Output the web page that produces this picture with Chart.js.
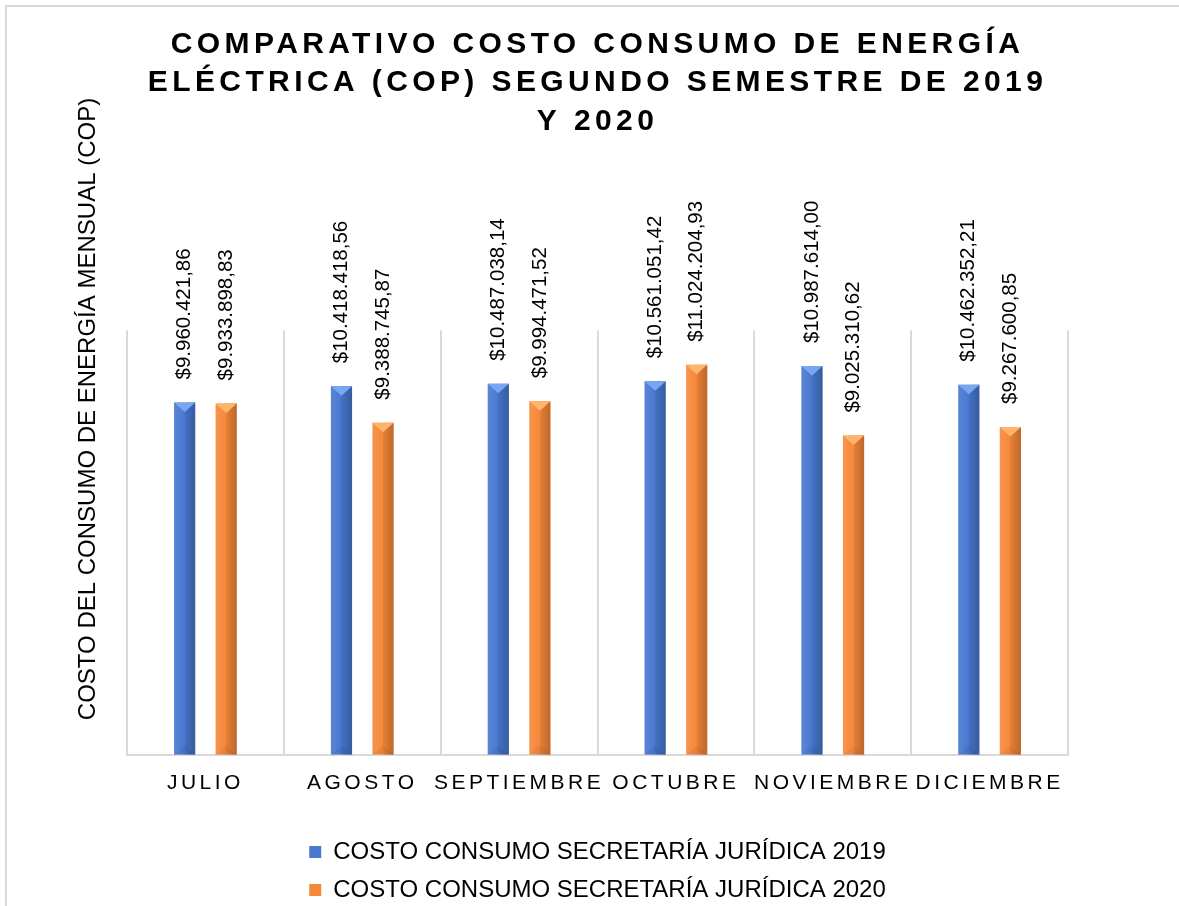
<!DOCTYPE html>
<html><head><meta charset="utf-8">
<script src="https://cdn.jsdelivr.net/npm/chart.js@4/dist/chart.umd.min.js"></script>
<style>
html,body{margin:0;padding:0;background:#fff;overflow:hidden;}
#wrap{position:relative;width:1179px;height:906px;}
#frame{position:absolute;left:5px;top:5px;width:1174px;height:901px;border-left:2px solid #d9d9d9;border-top:2px solid #d9d9d9;box-sizing:border-box;pointer-events:none}
canvas{display:block}
</style></head><body>
<div id="wrap"><canvas id="c" width="1179" height="906"></canvas><div id="frame"></div></div>
<script>
const categories = ['JULIO', 'AGOSTO', 'SEPTIEMBRE', 'OCTUBRE', 'NOVIEMBRE', 'DICIEMBRE'];
const seriesNames = ['COSTO CONSUMO SECRETARÍA JURÍDICA 2019', 'COSTO CONSUMO SECRETARÍA JURÍDICA 2020'];
const values2019 = [9960421.86, 10418418.56, 10487038.14, 10561051.42, 10987614.00, 10462352.21];
const values2020 = [9933898.83, 9388745.87, 9994471.52, 11024204.93, 9025310.62, 9267600.85];
const titleLines = ['COMPARATIVO COSTO CONSUMO DE ENERGÍA', 'ELÉCTRICA (COP) SEGUNDO SEMESTRE DE 2019', 'Y 2020'];
const yAxisTitle = 'COSTO DEL CONSUMO DE ENERGÍA MENSUAL (COP)';

const FONT = "'Liberation Sans', Arial, sans-serif";
const baseColors = ['#4878d0', '#f6883a'];
const lightColors = ['#79a6f2', '#ffb46c'];

function fmt(v) {
  const parts = v.toFixed(2).split('.');
  return '$' + parts[0].replace(/\B(?=(\d{3})+(?!\d))/g, '.') + ',' + parts[1];
}

const spacingPlugin = {
  id: 'spacing',
  beforeDraw(chart) {
    const tb = chart.titleBlock;
    if (tb && !tb._ls) {
      const orig = tb.draw;
      tb.draw = function (a) { const c = chart.ctx; c.save(); c.letterSpacing = '4.4px'; orig.call(this, a); c.restore(); };
      tb._ls = true;
    }
    const xs = chart.scales.x;
    if (xs && !xs._ls) {
      const o = xs.drawLabels;
      xs.drawLabels = function (a) { const c = chart.ctx; c.save(); c.letterSpacing = '3.5px'; o.call(this, a); c.restore(); };
      xs._ls = true;
    }
  },
  afterDraw(chart) {
    const c = chart.ctx;
    c.save();
    c.translate(88, 409);
    c.rotate(-Math.PI / 2);
    c.font = '24px ' + FONT;
    c.fillStyle = '#000';
    c.textAlign = 'center';
    c.textBaseline = 'middle';
    c.fillText(yAxisTitle, 0, 0);
    c.restore();
  }
};

const barDeco = {
  id: 'barDeco',
  afterDatasetsDraw(chart) {
    const c = chart.ctx;
    chart.data.datasets.forEach((ds, di) => {
      const meta = chart.getDatasetMeta(di);
      meta.data.forEach((el, i) => {
        const p = el.getProps(['x', 'y', 'base', 'width'], true);
        const l = p.x - p.width / 2, r = p.x + p.width / 2;
        c.save();
        const g = c.createLinearGradient(l, 0, r, 0);
        g.addColorStop(0, 'rgba(255,255,255,0.10)');
        g.addColorStop(0.5, 'rgba(255,255,255,0)');
        g.addColorStop(0.5, 'rgba(0,0,0,0.06)');
        g.addColorStop(1, 'rgba(0,0,0,0.24)');
        c.fillStyle = g;
        c.fillRect(l, p.y, p.width, p.base - p.y);
        c.fillStyle = lightColors[di];
        c.beginPath();
        c.moveTo(l, p.y); c.lineTo(r, p.y); c.lineTo(p.x, p.y + p.width * 0.45); c.closePath();
        c.fill();
        c.fillStyle = 'rgba(0,0,0,0.05)';
        c.beginPath();
        c.moveTo(l, p.base); c.lineTo(r, p.base); c.lineTo(p.x, p.base - p.width * 0.45); c.closePath();
        c.fill();
        c.translate(p.x, p.y - 23);
        c.rotate(-Math.PI / 2);
        c.font = '20.5px ' + FONT;
        c.fillStyle = '#000';
        c.textAlign = 'left';
        c.textBaseline = 'middle';
        c.fillText(fmt(ds.data[i]), 0, 0);
        c.restore();
      });
    });
  }
};

new Chart(document.getElementById('c'), {
  type: 'bar',
  data: {
    labels: categories,
    datasets: [
      { label: seriesNames[0], data: values2019, backgroundColor: baseColors[0], borderWidth: 0, categoryPercentage: 0.53, barPercentage: 0.51 },
      { label: seriesNames[1], data: values2020, backgroundColor: baseColors[1], borderWidth: 0, categoryPercentage: 0.53, barPercentage: 0.51 }
    ]
  },
  options: {
    responsive: false,
    animation: false,
    layout: { padding: { left: 127, right: 111, top: 0, bottom: -6 } },
    plugins: {
      title: {
        display: true,
        text: titleLines,
        color: '#000',
        font: { family: FONT, size: 30, weight: 'bold', lineHeight: 1.27 },
        padding: { top: 26, bottom: 190 }
      },
      legend: {
        position: 'bottom',
        labels: {
          font: { family: FONT, size: 24 },
          color: '#000',
          boxWidth: 12,
          boxHeight: 12,
          padding: 14
        }
      },
      tooltip: { enabled: false }
    },
    scales: {
      x: {
        grid: { color: '#d9d9d9', lineWidth: 2, drawTicks: false, offset: true },
        border: { color: '#d9d9d9', width: 2 },
        ticks: { font: { family: FONT, size: 21 }, color: '#000', padding: 16, maxRotation: 0, autoSkip: false },
        afterFit(s) { s.height += 14; }
      },
      y: { display: false, min: 0, max: 12000000 }
    }
  },
  plugins: [spacingPlugin, barDeco]
});
</script>
</body></html>
